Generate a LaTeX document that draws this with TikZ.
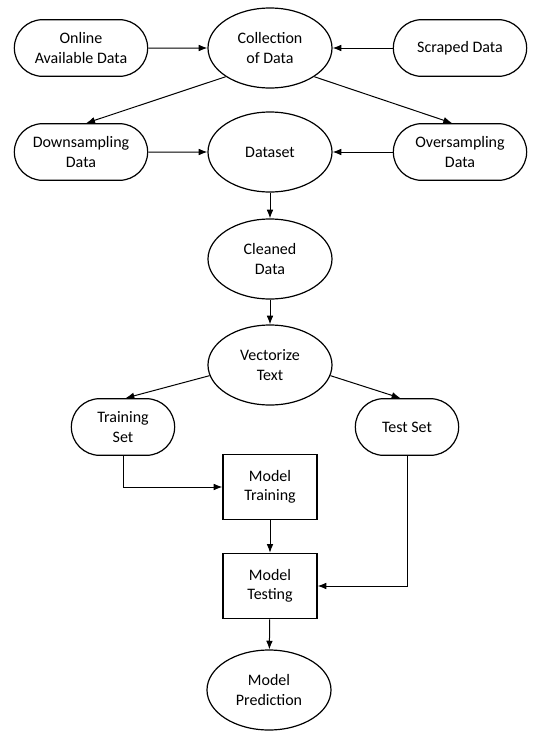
\documentclass[tikz,border=0pt]{standalone}
\usepackage{fontspec}
\setmainfont{Carlito}
\usetikzlibrary{arrows.meta,shapes.geometric,shapes.misc,positioning}

\begin{document}
\begin{tikzpicture}[x=0.75pt,y=-0.75pt,->,>={Latex[length=6.5pt,width=5pt]},line width=0.75pt,
    font=\fontsize{12}{14.5}\selectfont]
  \tikzset{
    every node/.style={draw,line width=0.9pt,align=center,inner sep=1pt},
    pill/.style={rounded rectangle,minimum width=102pt,minimum height=42.5pt},
    smallpill/.style={rounded rectangle,minimum width=79.5pt,minimum height=42.5pt},
    oval/.style={ellipse,minimum width=93pt,minimum height=60pt},
    stepbox/.style={rectangle,minimum width=70.5pt,minimum height=49pt}
  }
  \useasboundingbox (0,0) rectangle (543,743);

  \node[pill]      (online)  at (81,48)   {Online\\Available Data};
  \node[oval]      (collect) at (270,48)  {Collection\\of Data};
  \node[pill]      (scraped) at (460,48)  {Scraped Data};
  \node[pill]      (down)    at (81,152)  {Downsampling\\Data};
  \node[oval]      (dataset) at (270,152) {Dataset};
  \node[pill]      (over)    at (460,152) {Oversampling\\Data};
  \node[oval]      (clean)   at (270,259) {Cleaned\\Data};
  \node[oval]      (vector)  at (270,365) {Vectorize\\Text};
  \node[smallpill] (train)   at (123,427) {Training\\Set};
  \node[smallpill] (test)    at (407,427) {Test Set};
  \node[stepbox]   (mtrain)  at (270,487) {Model\\Training};
  \node[stepbox]   (mtest)   at (270,586) {Model\\Testing};
  \node[oval]      (predict) at (269,690) {Model\\Prediction};

  \draw (online) -- (collect);
  \draw (scraped) -- (collect);
  \draw (collect.south west) -- ([xshift=4pt]down.north);
  \draw (collect.south east) -- ([xshift=-6pt]over.north);
  \draw (down) -- (dataset);
  \draw (over) -- (dataset);
  \draw (dataset) -- (clean);
  \draw (clean) -- (vector);
  \draw (vector.190) -- ([xshift=2pt]train.north);
  \draw (vector.350) -- ([xshift=-5pt]test.north);
  \draw (train.south) |- (mtrain.west);
  \draw (mtrain) -- (mtest);
  \draw (test.south) |- (mtest.east);
  \draw (mtest) -- (predict);
\end{tikzpicture}
\end{document}
